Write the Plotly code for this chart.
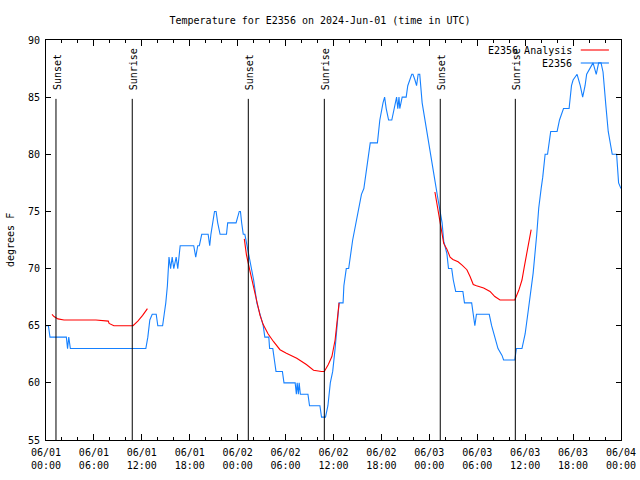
import pandas as pd
import plotly.graph_objects as go

# ---------------- data ----------------
base = pd.Timestamp("2024-06-01 00:00")

blue_hours = [0.0, 0.3, 0.5, 2.55, 2.7, 2.85, 3.05, 12.5, 12.75, 13.0, 13.3, 13.8, 14.0, 14.6, 14.8,
              15.0, 15.2, 15.4, 15.6, 15.8, 16.0, 16.3, 16.5, 16.8, 17.5, 18.5, 18.75, 19.0, 19.2,
              19.5, 20.3, 20.5, 20.65, 20.85, 21.1, 21.3, 21.5, 21.8, 22.6, 22.75, 23.8, 24.2,
              24.35, 24.5, 24.7, 24.9, 25.3, 26.0, 26.4, 26.8, 27.2, 27.4, 27.9, 28.0, 28.4,
              28.6, 28.8, 29.6, 29.8, 31.2, 31.35, 31.45, 31.6, 31.7, 31.85, 32.8, 33.0, 34.3,
              34.5, 35.0, 35.3, 35.6, 35.9, 36.2, 36.4, 36.7, 37.2, 37.3, 37.6, 37.9, 38.4,
              39.1, 39.5, 39.8, 40.2, 40.6, 41.5, 41.8, 42.2, 42.4, 42.6, 42.9, 43.3, 43.6,
              43.9, 44.05, 44.2, 44.3, 44.6, 45.1, 45.3, 45.8, 45.95, 46.2, 46.4, 46.6, 46.8,
              47.1, 47.5, 47.9, 48.3, 48.7, 49.1, 49.6, 49.8, 50.2, 50.4, 50.8, 51.0, 51.3,
              52.2, 52.4, 53.3, 53.5, 53.7, 53.9, 54.2, 55.5, 55.8, 56.2, 56.6, 57.1, 57.3,
              58.7, 58.9, 59.6, 60.0, 60.4, 61.0, 61.45, 61.7, 62.0, 62.2, 62.5, 62.8, 63.1,
              63.2, 64.0, 64.3, 64.8, 65.5, 65.8, 66.0, 66.5, 66.9, 67.2, 67.5, 67.7, 68.1,
              68.5, 68.9, 69.2, 69.5, 69.75, 70.1, 70.4, 70.9, 71.45, 71.7, 72.0]
blue_temps = [65, 65, 64, 64, 63, 64, 63, 63, 64, 65.5, 66, 66, 65, 65, 66,
              67, 68.5, 71, 70, 71, 70, 71, 70, 72, 72, 72, 71, 72, 72,
              73, 73, 72, 73, 74, 75, 75, 74, 73, 73, 74, 74, 75,
              75, 74, 73, 73, 71.5, 69, 67, 66, 65, 64, 64, 63, 63,
              62, 61, 61, 60, 60, 59, 60, 59, 60, 59, 59, 58, 58,
              57, 57, 58, 60, 61, 63, 64.5, 67, 67, 68.5, 70, 70, 72.5,
              75, 76.5, 77, 79, 81, 81, 83, 84.5, 85, 84, 83, 83, 84,
              85, 84, 85, 84, 85, 85, 86, 87, 87, 86.5, 86, 87, 87,
              84.5, 82.7, 81.2, 79.2, 77.7, 76, 74, 72.4, 71.3, 70, 70, 69, 68,
              68, 67, 67, 66, 65, 66, 66, 66, 65, 64, 63, 62.4, 62,
              62, 63, 63, 64.3, 66.4, 69.6, 73, 75.3, 77, 78, 80, 80, 81.5,
              82, 82, 83, 84, 84, 86, 86.5, 87, 86, 85, 86, 87, 87.5,
              88, 87, 88, 88, 87.2, 84.3, 82, 80, 80, 77.5, 77]

red_hours = [0.75, 1.0, 1.5, 2.25, 6.25, 7.8, 7.9, 8.5, 10.9, 11.5, 12.1, 12.7, None,
             24.83, 25.1, 25.5, 25.96, 26.4, 26.8, 27.2, 27.8, 28.5, 29.3, 30.1, 31.4, 32.6,
             33.5, 34.5, 34.85, 35.35, 35.8, 36.2, 36.4, 36.6, 36.7, None,
             48.7, 49.0, 49.25, 49.55, 49.8, 50.2, 50.6, 50.95, 51.6, 52.1, 52.7, 53.1, 53.5,
             53.9, 54.8, 55.6, 56.2, 56.85, 58.7, 59.2, 59.6, 59.9, 60.2, 60.4, 60.75]
red_temps = [66.0, 65.8, 65.6, 65.5, 65.5, 65.4, 65.2, 65.0, 65.0, 65.4, 65.9, 66.5, None,
             72.6, 71.2, 69.9, 68.4, 67.25, 65.9, 65.1, 64.3, 63.6, 62.9, 62.6, 62.15, 61.6,
             61.1, 61.0, 61.0, 61.6, 62.3, 63.75, 65.2, 66.4, 67.0, None,
             76.7, 75.4, 74.25, 73.1, 72.2, 71.7, 71.0, 70.8, 70.6, 70.3, 69.9, 69.3, 68.6,
             68.5, 68.3, 68.0, 67.55, 67.25, 67.25, 68.1, 69.0, 70.2, 71.3, 72.2, 73.4]

event_times = ["2024-06-01 01:15", "2024-06-01 10:48", "2024-06-02 01:20",
               "2024-06-02 10:51", "2024-06-03 01:22", "2024-06-03 10:46"]
event_labels = ["Sunset", "Sunrise", "Sunset", "Sunrise", "Sunset", "Sunrise"]

tick_times = ["2024-06-01 00:00", "2024-06-01 06:00", "2024-06-01 12:00", "2024-06-01 18:00",
              "2024-06-02 00:00", "2024-06-02 06:00", "2024-06-02 12:00", "2024-06-02 18:00",
              "2024-06-03 00:00", "2024-06-03 06:00", "2024-06-03 12:00", "2024-06-03 18:00",
              "2024-06-04 00:00"]
tick_labels = ["06/01<br>00:00", "06/01<br>06:00", "06/01<br>12:00", "06/01<br>18:00",
               "06/02<br>00:00", "06/02<br>06:00", "06/02<br>12:00", "06/02<br>18:00",
               "06/03<br>00:00", "06/03<br>06:00", "06/03<br>12:00", "06/03<br>18:00",
               "06/04<br>00:00"]

series_names = ["E2356 Analysis", "E2356"]
RED = "#ff0000"
BLUE = "#1580ff"
FONT = "DejaVu Sans Mono"


def to_time(hours):
    return [None if h is None else base + pd.Timedelta(hours=h) for h in hours]


fig = go.Figure()
fig.add_trace(go.Scatter(x=to_time(blue_hours), y=blue_temps, mode="lines",
                         line=dict(color=BLUE, width=1.1), name=series_names[1],
                         showlegend=False))
fig.add_trace(go.Scatter(x=to_time(red_hours), y=red_temps, mode="lines",
                         line=dict(color=RED, width=1.1), name=series_names[0],
                         connectgaps=False, showlegend=False))

shapes = []
annotations = []
for t, lab in zip(event_times, event_labels):
    shapes.append(dict(type="line", xref="x", yref="y", x0=t, x1=t, y0=55, y1=84.85,
                       line=dict(color="black", width=1)))
    annotations.append(dict(x=t, y=85.45, xref="x", yref="y", text=lab, textangle=-90,
                            showarrow=False, xanchor="center", yanchor="bottom", xshift=1,
                            font=dict(family=FONT, size=10, color="black")))

# legend (gnuplot style: text right, sample at right)
legend_rows = [(0.975, RED, series_names[0]), (0.9425, BLUE, series_names[1])]
for yy, col, name in legend_rows:
    annotations.append(dict(x=0.919, y=yy, xref="paper", yref="paper", text=name,
                            showarrow=False, xanchor="right", yanchor="middle",
                            font=dict(family=FONT, size=10, color="black")))
    shapes.append(dict(type="line", xref="paper", yref="paper", x0=0.930, x1=0.979,
                       y0=yy, y1=yy, line=dict(color=col, width=1.1)))

annotations.append(dict(x=-0.0626, y=0.5, xref="paper", yref="paper", text="degrees F",
                        textangle=-90, showarrow=False, xanchor="center", yanchor="middle",
                        font=dict(family=FONT, size=10, color="black")))

minor_ticks = [base + pd.Timedelta(hours=h) for h in range(0, 73, 2)]

fig.update_layout(
    width=640, height=480,
    margin=dict(l=46, r=19, t=40, b=40, autoexpand=False),
    paper_bgcolor="white", plot_bgcolor="white",
    font=dict(family=FONT, size=10, color="black"),
    title=dict(text="Temperature for E2356 on 2024-Jun-01 (time in UTC)",
               x=0.5, xanchor="center", y=1 - 20 / 480, yanchor="middle", yref="container",
               font=dict(family=FONT, size=10, color="black")),
    shapes=shapes, annotations=annotations,
    showlegend=False,
)
fig.update_xaxes(type="date", range=[tick_times[0], tick_times[-1]], automargin=False,
                 tickmode="array", tickvals=tick_times, ticktext=tick_labels,
                 ticks="inside", ticklen=6, tickcolor="black", tickwidth=1,
                 ticklabelstandoff=3,
                 minor=dict(tickmode="array", tickvals=minor_ticks, ticks="inside",
                            ticklen=3, tickcolor="black", showgrid=False),
                 showline=True, linecolor="black", linewidth=1, mirror="ticks",
                 showgrid=False, zeroline=False,
                 tickfont=dict(family=FONT, size=10, color="black"))
fig.update_yaxes(range=[55, 90], tick0=55, dtick=5, automargin=False,
                 ticks="inside", ticklen=5, tickcolor="black", tickwidth=1,
                 ticklabelstandoff=3,
                 showline=True, linecolor="black", linewidth=1, mirror="ticks",
                 showgrid=False, zeroline=False,
                 tickfont=dict(family=FONT, size=10, color="black"))

fig.write_html("out.html")
